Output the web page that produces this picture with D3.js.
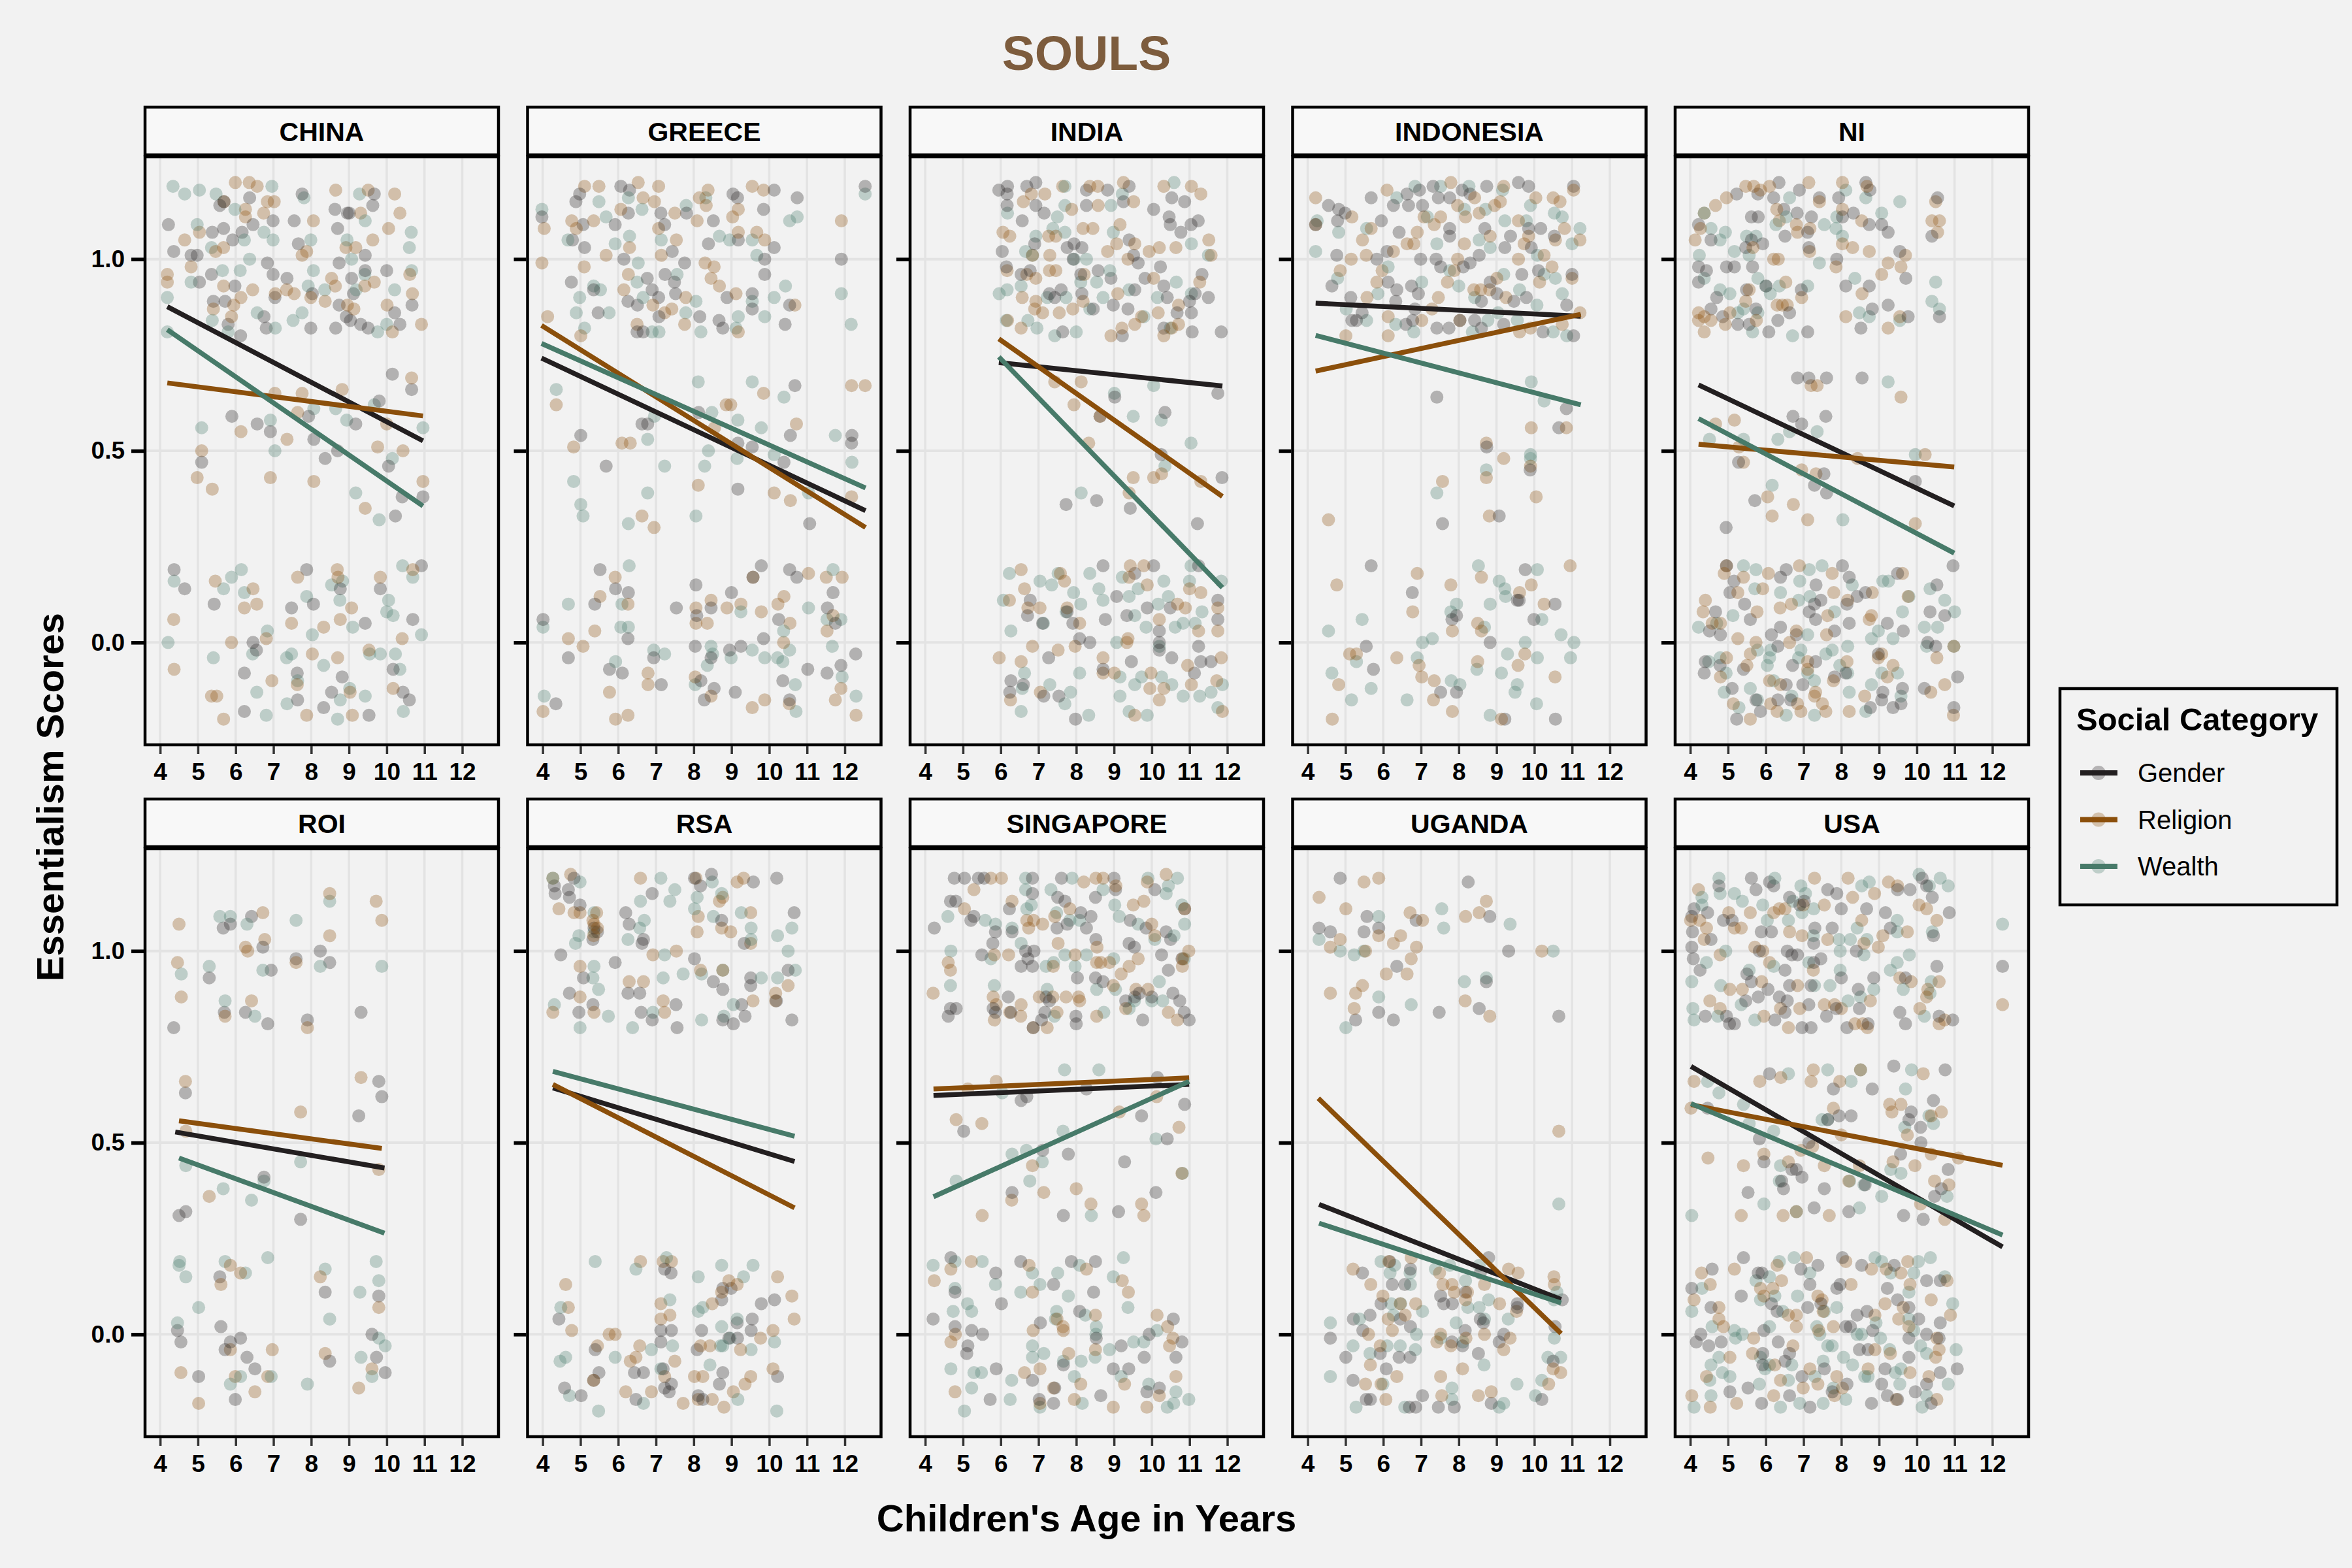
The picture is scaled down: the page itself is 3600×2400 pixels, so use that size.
<!DOCTYPE html>
<html>
<head>
<meta charset="utf-8">
<script src="https://cdn.jsdelivr.net/npm/d3@7"></script>
<style>
  body { margin: 0; background: #f2f2f2; }
  svg text { font-family: "Liberation Sans", Arial, sans-serif; }
</style>
</head>
<body>
<script>
// ---- data ----
var countries = ["CHINA", "GREECE", "INDIA", "INDONESIA", "NI", "ROI", "RSA", "SINGAPORE", "UGANDA", "USA"];
var categories = ["Gender", "Religion", "Wealth"];
var xTicks = [4, 5, 6, 7, 8, 9, 10, 11, 12];
var yTicks = [0, 0.5, 1.0];

// fitted lines, one per country: [age start, score start, age end, score end]
var genderFit = [[4.19,0.876,10.96,0.526],[3.97,0.742,12.55,0.344],[5.95,0.730,11.87,0.669],[4.21,0.885,11.23,0.851],[4.22,0.672,10.99,0.356],
                 [4.40,0.528,9.94,0.434],[4.27,0.643,10.67,0.451],[4.22,0.623,10.99,0.652],[4.30,0.339,10.71,0.091],[4.02,0.699,12.27,0.228]];
var religionFit = [[4.19,0.677,10.96,0.591],[3.97,0.827,12.55,0.300],[5.95,0.792,11.87,0.381],[4.21,0.708,11.23,0.856],[4.22,0.517,10.99,0.458],
                   [4.50,0.557,9.87,0.485],[4.27,0.652,10.67,0.330],[4.22,0.640,10.99,0.669],[4.28,0.616,10.71,0.002],[4.02,0.599,12.27,0.441]];
var wealthFit = [[4.19,0.816,10.96,0.356],[3.97,0.780,12.55,0.403],[5.95,0.745,11.87,0.143],[4.21,0.801,11.23,0.620],[4.22,0.584,10.99,0.233],
                 [4.50,0.460,9.94,0.264],[4.27,0.686,10.67,0.517],[4.22,0.359,10.99,0.660],[4.30,0.290,10.71,0.082],[4.02,0.602,12.27,0.259]];

// jittered children, flat lists of age, score pairs
var chinaGender = [4.22,1.09,4.36,1.02,4.82,1.01,4.98,1.01,5.04,0.94,5.58,1.14,5.69,1.15,6.37,1.16,6.99,1.10,6.46,1.09,5.38,1.07,5.68,1.08,6.17,1.07,5.92,1.05,5.36,0.96,5.98,0.93,5.41,0.89,5.72,0.89,5.8,0.83,6.13,0.8,6.84,0.99,6.99,0.96,7.04,0.9,7.36,0.95,6.75,0.85,6.81,0.82,7.55,1.1,7.76,1.17,7.66,1.04,8.03,0.91,7.99,0.82,8.63,1.13,8.7,1.08,8.96,1.12,9.01,1.12,8.74,0.99,9.07,0.95,9.12,0.91,8.74,0.88,8.93,0.85,8.65,0.82,9.04,0.84,9.31,0.83,9.51,0.82,9.43,1.01,9.43,0.97,9.63,1.14,9.67,1.17,10.0,0.97,10.21,0.86,10.35,0.83,10.67,0.88,
  5.9,0.59,6.57,0.57,6.92,0.55,7.93,0.59,8.07,0.53,8.37,0.48,8.7,0.5,9.18,0.57,9.8,0.63,10.15,0.7,10.66,0.66,10.05,0.46,10.41,0.38,10.96,0.38,10.23,0.33,5.1,0.47,
  4.37,0.19,4.65,0.14,5.43,0.1,7.88,0.19,8.06,0.1,7.48,0.09,8.77,0.14,9.43,0.05,9.83,0.14,10.92,0.2,10.69,0.06,6.46,0.0,6.55,-0.02,6.23,-0.08,7.63,-0.08,8.82,-0.09,8.54,-0.13,7.64,-0.15,8.33,-0.17,6.23,-0.18,9.53,-0.19,10.17,-0.07,10.43,-0.13,10.6,-0.15];
var chinaReligion = [5.99,1.2,6.36,1.2,6.57,1.19,5.69,1.15,6.84,1.15,7.02,1.15,6.74,1.12,6.26,1.11,6.26,1.13,5.04,1.07,4.65,1.05,8.06,1.1,8.65,1.18,9.51,1.18,10.21,1.17,10.35,1.12,10.05,1.08,9.63,1.05,9.31,1.12,9.18,1.03,8.92,1.03,7.76,1.01,7.88,1.02,5.68,1.03,5.47,1.02,4.82,0.98,4.19,0.96,4.19,0.94,5.68,0.93,6.45,0.92,6.14,0.9,5.95,0.88,5.41,0.87,5.89,0.85,7.05,0.91,7.35,0.92,7.55,0.91,7.99,0.9,8.37,0.89,8.54,0.95,8.64,0.93,8.96,0.88,9.13,0.87,9.42,0.93,9.67,0.94,10.01,0.88,10.15,0.81,10.61,0.96,10.68,0.91,10.92,0.83,
  5.1,0.5,4.98,0.43,5.38,0.4,6.14,0.55,6.92,0.43,7.04,0.65,7.36,0.53,7.76,0.65,7.64,0.6,8.07,0.42,8.82,0.66,10.0,0.57,9.76,0.51,10.43,0.5,9.43,0.35,10.96,0.42,10.66,0.69,
  5.46,0.16,6.46,0.14,6.23,0.09,6.56,0.1,4.36,0.06,5.89,0.0,6.81,0.01,7.64,0.17,8.69,0.19,8.71,0.17,9.07,0.09,8.77,0.06,8.33,0.04,7.48,0.05,9.83,0.17,10.69,0.19,10.41,0.01,9.53,-0.02,8.7,-0.04,8.03,-0.03,4.37,-0.07,6.96,-0.1,7.63,-0.11,5.36,-0.14,5.5,-0.14,5.68,-0.2,7.88,-0.19,9.03,-0.13,9.09,-0.19,10.17,-0.12];
var chinaWealth = [4.34,1.19,4.65,1.17,5.04,1.18,5.48,1.17,6.96,1.19,7.81,1.16,9.28,1.17,10.65,1.07,10.6,1.03,10.66,0.97,10.21,0.92,4.98,1.09,5.98,1.13,6.75,1.07,6.99,1.05,6.23,1.05,5.36,1.03,4.82,0.94,5.65,0.97,6.12,0.97,6.37,1.0,7.99,1.05,8.06,0.97,7.92,0.93,8.36,0.92,8.95,1.05,9.07,1.0,9.43,1.1,9.42,0.96,4.19,0.9,4.19,0.81,6.57,0.86,7.76,0.86,7.52,0.84,7.05,0.82,5.38,0.84,5.8,0.81,9.76,0.81,10.0,0.83,9.19,0.92,
  5.1,0.56,6.92,0.58,7.04,0.5,8.07,0.61,8.65,0.61,8.94,0.58,9.67,0.62,10.15,0.48,9.18,0.39,9.8,0.32,10.96,0.56,
  4.37,0.16,5.89,0.17,6.15,0.19,5.68,0.14,6.23,0.13,6.84,0.03,7.88,0.12,8.03,0.02,8.54,0.15,8.76,0.11,8.83,0.16,9.1,0.04,10.05,0.11,10.17,0.07,10.0,0.08,10.42,0.2,10.69,0.17,10.92,0.02,4.21,0.0,5.41,-0.04,6.45,-0.03,7.35,-0.04,7.48,-0.03,8.33,-0.06,9.55,-0.03,9.83,-0.03,10.23,-0.03,10.35,-0.07,6.56,-0.13,6.81,-0.19,7.36,-0.16,7.64,-0.1,8.77,-0.15,9.02,-0.12,9.43,-0.14,8.7,-0.2,10.44,-0.18];

var greeceGender = [4.88,1.15,4.98,1.17,6.07,1.19,6.3,1.18,6.27,1.12,5.07,1.09,4.79,1.05,5.11,1.03,3.98,1.11,5.92,1.09,6.15,1.0,4.76,0.94,5.35,0.92,5.47,0.86,6.26,0.89,6.51,0.88,6.77,0.95,6.9,0.92,7.07,0.9,7.13,1.12,7.23,1.09,7.43,1.02,7.24,0.96,7.49,0.94,7.52,0.91,7.08,0.85,6.66,0.81,6.5,0.81,7.76,0.99,7.81,1.12,8.16,0.85,8.39,1.04,8.52,1.1,8.67,0.84,8.88,0.9,9.04,1.17,9.16,1.16,9.18,1.05,9.55,0.91,9.55,0.87,9.85,1.13,9.88,1.0,9.88,0.96,10.13,1.03,10.13,1.18,10.74,1.16,10.42,0.83,10.54,0.88,11.91,1.0,12.54,1.19,8.77,0.82,
  5.01,0.54,5.68,0.46,6.63,0.57,6.78,0.57,8.13,0.6,9.17,0.52,9.17,0.4,9.55,0.51,10.39,0.47,10.56,0.54,10.68,0.67,11.07,0.31,12.18,0.52,12.19,0.54,
  5.52,0.19,5.93,0.14,6.27,0.13,5.38,0.1,6.26,0.01,4.68,-0.04,5.77,-0.07,6.11,-0.08,6.94,-0.04,7.14,-0.11,7.54,0.09,8.06,0.15,8.08,0.07,8.46,0.09,9.0,0.13,9.79,0.2,9.57,0.17,8.04,-0.01,8.46,-0.04,8.95,-0.02,9.25,-0.01,9.85,0.01,10.25,0.06,10.54,0.19,10.73,0.17,11.54,0.09,11.69,0.13,11.75,0.05,11.02,-0.07,11.53,-0.08,11.9,-0.06,12.29,-0.03,10.36,-0.1,8.19,-0.1,8.54,-0.12,8.28,-0.15,9.1,-0.13,10.54,-0.15,4.01,0.06,4.35,-0.16];
var greeceReligion = [5.11,1.19,5.49,1.19,6.53,1.2,6.66,1.16,7.07,1.19,6.96,1.15,4.77,1.1,4.04,1.08,3.98,0.99,4.89,1.08,5.35,1.1,6.07,1.13,5.68,1.01,6.3,1.03,6.27,0.96,5.1,0.98,6.15,0.92,7.07,1.08,7.54,1.05,7.14,1.01,7.5,1.12,7.42,0.87,7.23,0.86,6.92,0.88,6.5,0.83,7.76,0.83,7.79,0.9,8.15,1.16,8.33,1.14,8.38,1.18,8.3,0.99,8.54,0.98,8.46,0.95,8.68,0.93,8.09,1.1,9.03,1.11,9.18,1.13,9.18,1.07,9.12,0.91,9.18,0.81,9.55,1.19,9.85,1.18,9.67,1.07,9.88,1.05,10.68,0.88,11.91,1.1,4.13,0.85,5.01,0.8,
  4.36,0.62,4.82,0.51,6.1,0.52,6.32,0.52,6.63,0.33,6.95,0.3,8.12,0.41,8.86,0.62,8.98,0.62,9.85,0.65,10.13,0.39,10.56,0.37,10.72,0.57,12.18,0.67,12.54,0.67,12.18,0.38,8.55,0.56,
  5.92,0.17,5.52,0.12,4.68,0.01,5.07,-0.01,5.38,0.03,6.26,0.1,8.06,0.09,8.46,0.11,8.06,0.05,8.36,0.05,9.25,0.1,9.57,0.17,9.79,0.08,10.23,0.1,10.39,0.12,10.55,0.05,11.04,0.18,11.51,0.17,11.93,0.17,11.53,0.03,10.38,0.0,11.69,0.07,6.79,-0.08,6.79,-0.11,5.77,-0.13,5.93,-0.2,6.26,-0.19,4.01,-0.18,8.04,-0.09,8.46,-0.14,9.55,-0.17,9.88,-0.15,10.53,-0.16,11.9,-0.12,11.75,-0.15,12.3,-0.19,8.88,0.09];
var greeceWealth = [3.98,1.13,5.49,1.15,5.68,1.11,6.27,1.16,6.63,1.13,6.3,1.06,5.92,1.04,4.67,1.05,5.35,0.93,5.53,0.92,4.98,0.9,4.89,0.86,5.76,0.86,6.53,0.99,6.5,0.94,7.14,1.05,7.56,0.96,6.66,0.9,6.9,0.81,7.08,0.81,7.8,1.14,7.79,0.86,8.06,0.89,8.19,0.81,8.32,1.16,8.68,1.06,8.95,1.05,9.18,0.85,9.12,0.82,9.55,1.05,9.55,0.89,9.67,1.01,9.88,0.85,10.13,0.9,10.43,0.93,10.54,1.1,10.74,1.11,11.91,0.91,12.17,0.83,12.54,1.17,5.11,0.82,
  4.36,0.66,4.82,0.42,5.01,0.36,5.07,0.33,6.27,0.31,6.78,0.53,6.78,0.39,6.96,0.59,7.23,0.46,8.06,0.33,8.12,0.68,8.29,0.46,8.39,0.5,8.48,0.6,9.15,0.48,9.17,0.58,9.55,0.68,9.79,0.56,10.13,0.49,10.39,0.64,11.04,0.39,11.75,0.54,12.19,0.47,
  4.68,0.1,6.29,0.2,6.1,0.1,6.07,0.04,6.27,0.04,4.01,0.04,6.94,-0.02,7.23,-0.03,5.93,-0.05,8.46,-0.01,8.5,-0.03,8.36,-0.06,8.99,-0.04,9.55,-0.02,9.88,-0.04,10.22,-0.04,10.36,-0.05,10.54,-0.02,11.04,0.09,11.53,0.06,11.9,0.06,11.69,0.19,11.67,-0.01,11.93,-0.09,12.3,-0.14,10.69,-0.11,10.71,-0.18,8.04,-0.11,9.25,0.08,4.04,-0.14,10.38,0.03];

var indiaGender = [5.95,1.18,6.18,1.19,6.69,1.19,6.93,1.2,6.17,1.17,6.17,1.14,6.57,1.1,7.15,1.12,6.93,1.14,6.9,1.04,6.04,1.02,6.15,0.98,6.54,0.96,6.78,0.97,7.29,0.91,7.43,0.9,7.6,0.92,7.76,1.03,7.94,1.04,8.15,1.03,7.92,1.0,8.27,1.18,8.83,1.18,8.27,1.14,8.12,0.96,8.15,0.91,8.45,0.87,8.58,0.97,8.92,0.95,8.98,0.88,9.22,0.8,9.4,1.19,9.25,1.15,9.4,1.05,9.52,1.01,9.64,0.99,9.82,0.95,9.55,0.92,9.37,0.87,10.05,1.13,10.46,1.11,10.49,1.09,10.23,0.98,10.32,0.93,10.41,0.9,10.32,0.82,10.53,1.16,10.87,1.15,10.77,1.07,11.04,1.09,11.23,1.1,11.33,0.96,11.15,0.91,11.0,0.89,11.05,0.86,11.07,0.81,11.5,0.9,11.84,0.81,10.67,0.86,7.64,0.81,
  9.02,0.64,8.63,0.59,10.35,0.6,10.25,0.49,11.75,0.65,11.86,0.43,7.73,0.36,8.54,0.37,9.43,0.35,11.21,0.31,
  6.78,0.11,8.71,0.2,10.05,0.2,9.55,0.18,9.07,0.12,9.88,0.09,10.49,0.09,11.75,0.11,11.75,0.06,11.24,0.2,10.2,0.03,10.2,0.0,10.2,-0.02,10.53,-0.04,11.24,-0.01,11.3,-0.05,11.57,-0.05,11.13,-0.08,9.46,-0.05,8.71,-0.07,8.36,0.0,8.09,0.01,7.91,0.05,7.76,0.08,7.11,0.05,6.71,0.07,7.27,-0.04,6.27,-0.1,6.6,-0.11,6.24,-0.13,7.14,-0.14,7.54,-0.14,7.98,-0.2,8.77,0.06,9.34,0.07];
var indiaReligion = [7.64,1.19,7.17,1.17,6.81,1.17,6.6,1.15,6.06,1.07,6.24,1.06,6.17,0.97,6.69,0.96,6.84,1.01,7.27,1.06,7.46,1.06,7.3,1.01,7.29,0.97,7.46,0.97,6.93,0.95,6.57,0.9,6.93,0.89,6.9,0.87,7.11,0.86,7.55,0.86,7.91,0.87,8.18,0.89,8.21,0.96,8.18,1.08,8.44,1.08,7.88,1.13,8.36,1.19,8.57,1.19,8.58,1.14,8.83,1.02,9.07,1.04,9.16,1.09,9.25,1.2,9.52,1.15,9.37,1.0,9.1,0.91,9.55,1.04,9.93,1.02,10.05,0.95,10.17,0.86,9.73,0.85,9.55,0.83,8.92,0.8,9.21,0.82,10.2,1.03,10.32,1.19,10.64,1.03,11.05,1.19,11.3,1.17,11.51,1.05,11.57,1.01,11.27,0.94,10.71,0.88,10.53,0.82,10.32,0.8,6.18,0.84,6.54,0.82,10.71,0.83,
  7.43,0.68,8.13,0.68,7.94,0.62,8.63,0.59,8.33,0.52,9.51,0.43,9.4,0.39,10.05,0.43,10.26,0.44,11.3,0.42,
  6.54,0.19,6.63,0.14,6.23,0.11,6.72,0.09,7.04,0.09,7.69,0.16,7.58,0.18,7.76,0.09,8.09,0.05,7.97,-0.01,7.52,-0.02,6.84,-0.01,5.96,-0.04,6.54,-0.05,7.05,-0.13,6.26,-0.15,8.71,-0.04,8.71,-0.08,9.01,-0.08,9.34,0.0,9.4,0.17,9.43,0.2,9.79,0.2,9.88,0.15,10.2,0.06,10.68,0.1,10.89,0.09,11.0,0.14,11.3,0.13,11.24,0.03,11.75,0.09,11.75,0.03,11.84,-0.04,10.95,-0.06,11.05,-0.11,10.32,-0.12,9.95,-0.12,9.98,-0.08,10.2,-0.15,9.55,-0.19,11.87,-0.18,11.72,-0.1,9.37,0.01];
var indiaWealth = [6.18,1.12,5.96,0.91,6.17,0.92,6.54,0.93,6.66,1.02,6.93,1.06,6.84,1.01,7.23,0.9,7.38,1.08,7.5,1.11,7.7,1.14,7.7,1.19,7.7,1.07,7.94,1.0,8.27,1.0,7.73,0.9,8.12,0.94,8.54,0.94,8.71,0.9,8.36,0.87,8.92,1.14,8.98,1.07,9.22,1.17,9.4,0.92,9.79,0.85,10.15,0.9,10.59,1.2,10.65,0.94,11.05,1.04,11.5,1.01,11.05,0.91,10.49,0.82,8.0,0.81,7.43,0.8,6.96,0.82,6.72,0.84,6.15,0.84,8.89,0.97,
  9.01,0.65,10.05,0.67,9.51,0.59,10.25,0.58,10.35,0.46,11.04,0.52,8.13,0.39,
  6.23,0.18,7.04,0.16,7.35,0.15,7.52,0.18,8.36,0.18,8.6,0.14,8.71,0.11,7.93,0.13,8.12,0.1,6.07,0.11,6.27,0.03,7.13,0.05,7.73,0.08,9.22,0.17,9.4,0.12,9.55,0.07,9.64,0.14,10.17,0.1,10.32,0.16,10.44,0.12,9.85,0.04,10.2,-0.01,10.62,0.04,10.83,0.05,11.04,0.2,11.0,0.16,11.15,0.05,11.33,0.08,11.84,0.16,9.07,0.0,9.16,-0.09,9.55,-0.11,9.73,-0.09,10.26,-0.09,10.53,-0.11,10.83,-0.14,11.27,-0.14,11.57,-0.13,11.87,-0.11,11.75,-0.17,9.16,-0.14,9.4,-0.18,9.88,-0.19,8.09,-0.08,7.3,-0.11,7.85,-0.13,7.7,-0.16,8.33,-0.19,6.54,-0.18,6.63,-0.08,6.57,-0.12];

var indonesiaGender = [4.55,1.14,4.82,1.13,4.99,1.12,4.79,1.1,4.21,1.09,5.68,1.16,5.95,1.1,4.77,1.01,4.64,0.93,5.14,0.9,5.17,0.84,5.29,0.84,5.44,0.86,5.83,1.0,6.1,1.02,6.13,0.94,6.36,0.92,6.27,1.14,6.42,1.07,6.63,1.17,6.67,1.14,6.96,1.18,7.04,1.14,7.32,1.19,7.46,1.16,7.76,1.16,8.09,1.18,8.3,1.17,8.74,1.19,9.58,1.2,9.85,1.19,11.04,1.19,7.76,1.08,7.76,1.06,6.99,1.0,7.4,1.0,7.52,0.98,6.75,0.93,6.93,0.91,6.84,0.87,6.78,0.84,6.6,0.83,6.33,0.89,7.42,0.82,7.74,0.82,8.03,0.84,8.12,0.98,8.3,0.99,8.54,1.01,8.42,0.84,8.6,0.82,8.6,0.89,8.69,1.08,8.83,0.94,9.01,0.91,9.22,1.03,9.19,0.83,9.37,1.06,9.46,0.89,9.67,0.96,9.79,0.9,9.85,1.08,9.92,1.03,10.17,1.08,10.23,0.81,10.53,1.06,10.86,0.88,11.04,0.8,11.0,0.96,10.11,0.97,
  7.42,0.64,10.85,0.61,10.65,0.56,9.89,0.45,9.07,0.33,8.74,0.51,7.57,0.31,
  5.68,0.2,6.77,0.13,7.82,0.06,7.94,0.07,9.76,0.19,9.6,0.11,10.55,0.1,9.99,0.06,5.55,-0.01,5.74,-0.07,8.83,0.0,7.52,-0.13,7.94,-0.13,9.22,-0.2,10.56,-0.2,9.55,0.11];
var indonesiaReligion = [4.21,1.16,5.17,1.11,4.21,1.09,5.45,1.05,5.15,1.0,5.55,1.01,5.68,1.08,6.1,1.18,5.97,0.97,5.83,0.94,5.57,0.9,4.86,0.97,5.01,0.8,6.27,1.02,6.63,1.04,6.81,1.04,6.9,1.07,7.08,1.11,7.35,1.09,7.52,1.11,7.79,1.2,7.97,1.14,8.15,1.04,7.97,1.0,7.88,0.97,7.7,0.94,7.46,0.9,7.29,0.87,6.13,0.85,6.13,0.8,7.02,0.84,8.03,0.84,8.18,1.11,8.42,1.16,8.54,1.12,8.83,1.06,8.95,1.14,9.19,1.19,9.1,1.15,8.4,0.92,8.58,0.92,8.82,0.92,9.01,0.95,9.25,0.9,9.58,1.1,9.73,1.04,9.85,1.06,9.58,1.0,10.04,1.16,10.5,1.16,10.68,1.15,10.8,1.08,10.56,1.05,10.26,1.01,10.47,0.98,11.0,0.95,11.21,1.05,11.04,1.18,10.14,0.94,9.61,0.81,9.9,0.82,10.74,0.83,11.21,0.86,
  4.55,0.32,7.57,0.42,8.73,0.52,8.73,0.43,9.19,0.48,8.81,0.33,9.92,0.56,9.9,0.46,10.05,0.38,10.85,0.56,
  4.77,0.15,6.9,0.18,7.79,0.15,8.6,0.17,9.92,0.15,9.61,0.13,10.26,0.1,10.95,0.2,6.78,0.08,7.83,0.03,8.5,0.05,8.6,0.03,5.11,-0.03,5.29,-0.03,6.36,-0.04,6.95,-0.06,7.02,-0.09,7.35,-0.1,7.33,-0.15,7.83,-0.18,8.5,-0.05,9.57,-0.06,9.75,-0.03,10.55,-0.09,9.13,-0.2,4.82,-0.11,4.65,-0.2];
var indonesiaWealth = [4.25,1.1,4.82,1.07,4.21,1.02,5.56,1.08,4.79,0.95,5.02,0.87,5.56,0.84,5.86,0.91,6.13,0.98,6.36,1.16,6.84,1.19,7.17,1.11,7.42,1.04,7.52,1.19,7.02,0.94,7.76,0.97,8.0,0.93,8.15,1.13,8.27,1.19,8.54,1.05,8.83,1.03,8.71,1.13,9.22,1.1,9.16,1.18,9.19,0.96,8.42,0.9,8.77,0.84,9.04,0.86,9.55,0.84,9.61,0.92,9.9,1.14,9.79,1.1,10.08,1.01,10.26,0.96,10.56,0.95,10.74,0.91,10.53,1.12,10.74,1.11,11.0,1.04,11.21,1.08,10.5,0.81,10.86,0.8,10.07,0.88,6.33,0.83,6.81,0.81,8.36,0.81,
  7.42,0.39,8.73,0.45,9.92,0.68,10.26,0.63,9.9,0.49,9.9,0.48,
  5.44,0.06,4.55,0.03,4.64,-0.08,5.29,-0.05,5.68,-0.12,5.16,-0.15,7.04,0.0,7.3,0.01,6.9,-0.04,6.63,-0.15,7.8,-0.1,8.03,-0.11,7.94,0.1,7.79,0.08,8.52,0.2,9.07,0.16,9.22,0.14,9.24,0.12,8.83,0.1,8.68,0.04,10.08,0.19,10.2,0.06,10.71,0.02,11.05,0.0,9.76,0.0,9.29,-0.03,10.08,-0.04,10.96,-0.04,9.13,-0.08,9.55,-0.11,9.49,-0.13,10.06,-0.16,8.83,-0.19,8.48,-0.07];

var niGender = [5.23,1.17,5.79,1.17,6.35,1.2,6.21,1.16,6.89,1.18,7.42,1.16,6.48,1.13,6.83,1.12,7.21,1.11,5.62,1.11,5.8,1.11,4.22,1.09,4.55,1.05,5.62,1.05,5.47,1.03,5.92,1.04,6.51,1.06,4.22,0.98,4.43,0.97,4.22,0.94,4.96,0.98,5.17,0.98,5.65,0.98,5.49,0.92,4.7,0.9,4.55,0.87,4.86,0.85,5.26,0.83,5.56,0.83,5.74,0.87,6.01,0.93,6.08,0.81,6.32,0.84,6.63,0.86,6.94,0.92,7.11,0.81,7.14,1.03,7.11,1.07,7.88,1.0,8.03,1.11,8.32,1.12,7.93,1.16,8.12,0.93,8.65,1.2,8.76,1.18,8.74,1.09,9.07,1.09,9.24,1.07,8.74,0.93,8.82,0.87,8.52,0.82,9.24,0.88,9.55,1.02,9.71,0.95,9.77,0.85,10.55,1.16,10.4,1.06,10.6,0.85,
  6.84,0.69,7.14,0.69,7.61,0.69,8.55,0.69,6.72,0.59,6.95,0.57,7.59,0.59,7.54,0.44,7.29,0.41,7.61,0.39,5.71,0.37,4.95,0.3,9.96,0.42,5.28,0.47,
  4.96,0.2,5.16,0.16,6.39,0.17,6.54,0.19,5.05,0.13,5.44,0.1,5.59,0.06,4.67,0.08,4.51,0.03,4.8,0.02,6.15,0.02,6.39,0.04,6.81,0.02,7.33,0.15,7.46,0.11,7.29,0.1,7.15,0.08,7.32,0.06,8.03,0.2,8.21,0.17,8.42,0.12,8.64,0.13,8.15,0.1,8.21,0.05,7.82,0.03,9.22,0.05,9.49,0.18,10.53,0.15,10.35,0.08,10.74,0.07,10.96,0.2,10.29,0.0,10.5,-0.01,8.98,-0.03,4.4,-0.05,4.37,-0.08,4.79,-0.06,5.41,-0.07,6.32,-0.01,6.71,-0.06,7.32,-0.05,7.82,-0.09,8.12,-0.08,6.54,-0.11,6.98,-0.11,5.11,-0.12,5.74,-0.15,5.86,-0.18,5.23,-0.2,6.32,-0.15,6.66,-0.15,9.1,-0.13,9.07,-0.15,9.37,-0.17,9.62,-0.12,9.58,-0.16,8.77,-0.17,10.2,-0.12,10.98,-0.17,11.08,-0.09,9.64,0.03];
var niReligion = [4.37,1.12,4.67,1.14,4.96,1.16,5.47,1.19,5.68,1.19,5.86,1.18,6.1,1.19,6.29,1.13,6.36,1.1,6.81,1.09,6.84,1.07,7.14,1.2,7.17,1.08,7.42,1.15,7.16,1.02,6.33,1.0,6.21,1.0,5.66,1.03,4.27,1.08,4.13,1.05,6.53,0.94,6.95,0.9,5.47,0.89,5.56,0.92,6.44,0.88,6.57,0.88,6.3,0.88,4.22,0.86,4.37,0.85,4.55,0.84,4.22,0.84,4.93,0.83,5.05,0.86,5.75,0.84,4.37,0.81,8.03,1.2,8.03,1.13,8.03,1.04,8.3,1.03,8.54,1.1,8.74,1.02,7.86,0.98,8.55,0.91,8.12,0.85,9.07,0.96,9.24,0.99,9.58,0.98,9.7,1.01,9.55,0.85,9.24,0.82,8.68,1.19,10.5,1.15,10.4,1.1,10.6,1.1,10.55,1.07,
  7.2,0.67,7.36,0.67,9.58,0.64,4.67,0.57,5.17,0.58,5.29,0.51,5.41,0.47,6.95,0.45,7.33,0.44,6.05,0.38,6.73,0.36,6.17,0.33,7.11,0.32,8.43,0.48,10.22,0.49,9.96,0.31,
  4.96,0.2,4.9,0.18,5.41,0.17,6.07,0.18,6.89,0.2,7.76,0.18,7.8,0.13,9.62,0.18,4.4,0.11,4.34,0.08,4.58,0.05,4.8,0.05,5.26,0.13,5.77,0.08,5.92,0.14,6.38,0.09,6.68,0.1,6.81,0.03,7.64,0.07,8.17,0.11,8.82,0.13,8.8,0.07,8.74,0.06,9.77,0.12,5.26,0.01,5.74,0.0,5.59,-0.03,6.63,0.0,7.11,-0.05,7.11,-0.07,7.61,0.02,8.15,-0.05,8.98,-0.04,9.07,-0.03,9.37,-0.06,9.22,-0.09,10.53,-0.04,10.98,-0.01,4.8,-0.09,4.96,-0.04,5.5,-0.06,6.1,-0.1,6.39,-0.11,6.13,-0.16,6.3,-0.18,6.93,-0.18,6.84,-0.16,7.32,-0.13,7.29,-0.14,7.5,-0.16,7.59,-0.18,5.59,-0.2,5.14,-0.16,7.79,-0.1,8.21,-0.18,8.62,-0.14,10.37,-0.13,10.74,-0.11,10.97,-0.19];
var niWealth = [4.37,1.12,4.55,1.08,4.93,1.07,4.79,1.05,4.24,1.01,5.17,1.02,5.49,1.06,5.74,1.06,5.56,1.01,4.37,0.95,4.79,0.92,5.05,0.91,5.41,0.87,5.79,0.86,5.79,0.95,6.0,0.93,6.12,0.91,6.36,0.93,7.11,0.93,5.65,0.81,5.26,0.86,6.27,1.09,6.63,1.16,6.54,1.11,7.55,1.09,7.88,1.11,7.86,1.08,8.12,1.18,8.03,1.06,8.65,1.16,9.07,1.12,9.55,1.15,7.42,0.99,8.36,0.95,8.48,0.86,8.74,0.85,9.55,0.84,10.5,0.94,10.4,0.89,10.6,0.87,6.71,0.8,
  4.51,0.53,5.41,0.53,6.32,0.53,6.63,0.55,7.36,0.55,6.17,0.41,8.04,0.32,9.24,0.68,9.96,0.49,
  5.41,0.2,5.74,0.19,7.15,0.19,7.49,0.2,6.9,0.16,6.39,0.13,5.71,0.14,5.13,0.07,4.22,0.04,4.7,0.05,6.87,0.11,7.17,0.12,7.82,0.08,8.29,0.15,9.1,0.16,9.25,0.16,9.79,0.12,9.62,0.08,10.35,0.14,10.74,0.11,11.0,0.08,10.2,0.04,10.55,0.04,8.98,0.03,9.37,0.01,8.8,0.01,10.26,-0.01,10.98,-0.01,4.49,-0.05,4.79,-0.04,4.95,-0.08,5.78,-0.02,6.13,-0.02,6.1,-0.04,6.04,-0.06,7.11,0.02,6.93,-0.02,6.87,-0.04,7.59,-0.03,7.76,-0.02,7.11,-0.08,8.17,-0.01,7.96,-0.06,8.17,-0.08,9.07,-0.08,9.49,-0.08,4.9,-0.13,5.59,-0.12,6.21,-0.1,5.78,-0.15,5.29,-0.17,6.54,-0.19,7.29,-0.19,6.69,-0.14,7.29,-0.1,8.21,-0.13,8.8,-0.11,8.65,-0.18,9.58,-0.14];

var roiGender = [5.67,1.06,6.42,1.09,5.86,1.07,6.72,1.01,6.94,0.95,7.6,0.98,8.24,1.0,8.49,0.97,5.3,0.93,5.7,0.84,6.26,0.84,6.85,0.81,7.9,0.82,4.36,0.8,9.32,0.84,
  4.67,0.63,9.79,0.66,9.87,0.62,9.26,0.57,6.75,0.41,4.5,0.31,4.68,0.32,7.72,0.3,
  5.58,0.15,8.37,0.11,9.79,0.1,5.61,0.02,4.46,0.01,4.55,-0.02,5.86,-0.02,6.13,-0.01,5.72,-0.04,6.3,-0.06,6.51,-0.09,8.49,-0.07,9.61,0.0,9.73,-0.06,9.96,-0.1,5.02,-0.11,5.99,-0.17];
var roiReligion = [4.5,1.07,6.72,1.1,6.77,1.03,6.26,1.01,6.32,1.0,8.49,1.15,8.49,1.04,9.72,1.13,9.87,1.08,4.46,0.97,7.6,0.97,4.56,0.88,5.72,0.83,6.42,0.87,7.9,0.8,
  4.67,0.66,9.32,0.67,7.72,0.58,4.68,0.53,9.79,0.43,5.3,0.36,
  5.86,0.18,6.13,0.16,5.61,0.13,8.24,0.15,9.79,0.07,5.86,-0.04,6.97,-0.04,8.37,-0.05,9.61,-0.09,4.55,-0.1,5.99,-0.11,6.85,-0.11,6.51,-0.15,9.26,-0.14,5.02,-0.18];
var roiWealth = [5.58,1.09,5.86,1.09,6.3,1.07,7.6,1.08,8.49,1.13,4.56,0.94,5.3,0.96,6.72,0.95,8.24,0.96,9.87,0.96,5.72,0.87,6.51,0.83,
  4.68,0.44,7.72,0.45,5.67,0.38,6.42,0.35,6.75,0.4,
  4.52,0.19,4.5,0.18,5.72,0.19,6.26,0.16,6.85,0.2,8.37,0.17,9.72,0.19,4.68,0.15,9.79,0.14,9.29,0.11,5.02,0.07,4.46,0.03,8.49,0.04,9.79,-0.01,9.96,-0.03,9.32,-0.06,6.13,-0.11,5.86,-0.13,6.94,-0.11,7.9,-0.13,9.61,-0.11];

var rsaGender = [4.31,1.17,4.33,1.15,4.83,1.19,4.68,1.16,4.71,1.14,4.99,1.12,5.36,1.06,5.45,1.05,5.33,1.03,4.48,0.99,5.08,0.93,4.71,0.89,5.33,0.86,4.96,0.84,6.2,1.1,6.29,1.07,6.67,1.03,6.63,1.02,5.92,0.97,6.26,0.89,6.57,0.89,6.61,0.84,6.9,1.15,6.9,0.82,7.56,0.8,7.53,0.86,8.02,1.19,8.47,1.2,8.18,1.17,8.74,1.08,8.02,0.98,8.52,0.92,8.77,0.9,9.58,1.18,10.2,1.19,9.34,1.02,9.51,0.93,9.51,0.91,9.27,0.86,9.36,0.83,9.05,0.81,10.19,0.87,10.66,1.1,10.5,0.95,10.6,0.82,8.77,0.82,
  7.23,0.17,7.4,0.16,8.77,0.12,8.99,0.12,8.74,0.09,9.79,0.08,10.14,0.09,9.55,0.04,9.15,0.03,8.21,0.01,7.13,0.01,7.41,0.01,4.43,0.04,5.39,-0.04,7.13,-0.02,8.09,-0.04,8.93,-0.01,9.16,-0.01,9.52,0.01,6.43,-0.1,6.67,-0.1,7.19,-0.09,8.77,-0.1,10.22,-0.11,5.35,-0.12,5.49,-0.1,4.58,-0.14,5.02,-0.16,6.47,-0.17,7.23,-0.14,7.41,-0.13,7.35,-0.15,8.12,-0.16,8.68,-0.13,8.24,-0.17];
var rsaReligion = [4.27,1.19,4.74,1.2,4.43,1.11,4.83,1.1,4.99,1.1,5.33,1.08,5.43,1.1,5.36,1.07,5.45,1.06,5.35,1.04,4.99,0.96,4.27,0.84,4.99,0.88,5.36,0.84,6.59,1.19,6.92,0.99,7.54,1.0,6.29,0.92,6.67,0.92,7.19,0.87,7.23,0.84,8.06,1.19,9.15,1.18,9.32,1.19,8.12,1.09,8.68,1.13,8.77,1.14,8.74,1.06,8.98,1.05,8.09,1.05,9.51,1.02,9.51,1.1,8.18,0.95,8.77,0.95,9.57,0.87,10.17,0.87,10.5,0.91,10.17,0.89,
  7.19,0.19,7.41,0.19,6.59,0.19,4.61,0.13,4.68,0.07,4.77,0.01,5.45,-0.03,5.76,0.0,5.92,0.0,6.57,-0.03,6.32,-0.07,6.47,-0.06,7.13,0.08,7.13,0.04,7.37,0.05,7.5,-0.07,7.23,-0.11,6.88,-0.15,7.72,-0.18,8.02,-0.11,8.12,-0.17,8.24,-0.11,8.49,-0.17,8.8,-0.19,9.05,-0.15,8.49,0.08,8.74,0.11,8.93,0.14,9.15,0.13,10.22,0.15,10.6,0.1,10.66,0.04,10.1,0.01,9.77,-0.01,10.1,-0.09,9.51,-0.11,9.36,-0.13,9.24,-0.04,8.18,-0.03,8.43,-0.03,6.2,-0.15,5.35,-0.12];
var rsaWealth = [4.27,1.19,4.99,1.18,5.36,1.1,5.36,1.05,4.96,1.04,4.87,1.02,5.36,0.96,5.33,0.93,5.48,0.9,4.31,0.86,4.99,0.8,5.74,0.83,6.59,1.13,6.57,1.06,6.69,1.08,6.26,1.03,7.13,1.19,7.5,1.16,7.37,1.13,7.23,0.99,7.19,0.93,6.92,0.84,6.38,0.8,7.72,0.94,8.02,1.11,8.09,1.14,8.49,1.18,8.74,1.15,8.52,1.09,8.77,0.95,8.21,0.94,8.21,0.82,8.8,0.83,9.05,0.86,9.26,1.1,9.52,1.06,9.52,1.03,9.79,0.93,10.22,1.04,10.22,0.93,10.6,1.06,10.5,1.0,10.69,0.95,
  5.39,0.19,6.47,0.17,7.28,0.2,8.74,0.18,9.57,0.18,9.32,0.15,8.12,0.15,7.37,0.09,8.12,0.06,8.24,0.07,8.74,0.02,9.15,0.04,8.71,-0.03,8.96,-0.01,9.52,-0.04,10.14,-0.02,4.48,0.07,6.88,-0.04,7.44,-0.03,5.92,-0.06,4.61,-0.06,4.46,-0.07,7.13,-0.09,8.43,-0.08,8.77,-0.03,4.71,-0.16,5.48,-0.2,6.67,-0.18,9.17,-0.17,10.2,-0.2];

var singaporeGender = [4.77,1.19,5.04,1.19,5.41,1.19,5.56,1.19,4.67,1.13,4.81,1.13,4.24,1.06,5.29,1.09,5.21,1.08,5.86,1.05,5.79,1.02,5.5,0.99,6.23,1.11,6.3,1.05,6.84,1.19,6.84,1.15,6.66,1.0,6.88,1.0,6.72,0.98,6.54,0.96,6.84,0.96,7.51,1.14,7.7,1.13,7.49,1.06,7.76,1.07,7.61,1.19,8.12,1.1,8.27,1.06,8.39,1.09,8.52,1.03,8.51,1.14,9.0,1.19,9.04,1.16,9.4,1.02,9.54,1.01,9.43,1.08,10.08,1.16,10.38,1.05,10.5,1.03,10.26,0.99,10.44,0.95,10.8,0.98,10.87,1.11,9.85,1.06,8.03,0.93,8.51,0.93,8.71,0.92,6.2,0.88,5.8,0.85,5.86,0.84,6.27,0.84,7.17,0.84,7.2,0.88,7.29,0.87,7.99,0.83,8.0,0.81,9.31,0.87,9.55,0.88,9.67,0.89,9.76,0.82,10.0,0.88,10.56,0.89,10.74,0.87,10.86,0.84,10.99,0.82,4.67,0.85,4.61,0.83,4.82,0.85,6.86,0.8,7.08,0.82,
  5.02,0.53,6.54,0.61,6.69,0.62,8.27,0.64,10.15,0.67,10.87,0.6,9.73,0.57,10.41,0.51,7.11,0.48,7.79,0.47,9.28,0.45,6.3,0.37,7.66,0.31,9.12,0.32,10.11,0.37,
  4.68,0.2,5.87,0.16,6.53,0.19,7.87,0.19,8.51,0.19,7.4,0.13,8.46,0.11,4.79,0.11,4.21,0.04,6.02,0.08,8.09,0.06,7.05,0.03,10.57,0.04,4.79,0.02,5.23,0.01,5.52,0.0,5.13,-0.03,5.1,-0.05,8.53,-0.01,9.19,-0.03,9.93,0.0,10.8,-0.02,9.8,-0.06,10.64,-0.06,7.66,-0.08,8.98,-0.09,9.39,-0.09,5.88,-0.09,6.84,-0.12,5.72,-0.17,7.02,-0.17,7.4,-0.18,8.65,-0.16,9.87,-0.15,10.2,-0.14,7.43,-0.14];
var singaporeReligion = [5.29,1.16,5.74,1.19,6.02,1.19,5.04,1.11,6.3,1.13,6.69,1.08,6.87,1.08,7.11,1.07,6.74,1.06,6.21,0.99,5.83,0.99,4.61,0.97,4.67,0.95,4.21,0.89,5.8,0.88,5.88,0.86,5.83,0.82,6.24,0.84,6.54,0.86,6.53,0.83,7.02,0.88,7.38,0.88,7.49,0.84,7.23,0.8,6.86,0.8,7.73,0.88,8.06,0.88,8.09,0.87,8.54,0.83,7.39,0.96,7.52,1.02,7.43,1.09,7.83,1.11,8.2,1.18,8.52,1.19,8.71,1.19,9.05,1.17,8.55,1.01,8.65,0.97,8.88,0.97,7.97,0.99,8.98,0.91,9.19,0.94,9.4,0.96,9.64,0.98,9.51,1.12,9.79,1.13,9.88,1.18,10.38,1.2,10.0,1.07,10.08,1.04,9.58,0.9,9.9,0.9,9.31,0.85,10.44,0.84,10.68,0.82,10.81,0.96,10.82,0.98,10.98,1.0,10.87,1.11,8.54,0.97,
  5.13,0.64,5.88,0.66,4.82,0.56,5.5,0.55,6.84,0.44,7.14,0.37,6.29,0.35,5.51,0.31,8.0,0.38,8.39,0.34,9.14,0.58,10.13,0.62,10.72,0.54,10.8,0.42,9.73,0.34,9.79,0.31,
  5.22,0.19,4.68,0.17,4.24,0.14,6.75,0.18,6.84,0.11,8.27,0.17,9.22,0.14,9.38,0.11,6.86,0.01,7.49,0.04,7.65,0.02,7.66,0.01,8.51,0.05,4.8,0.0,4.68,-0.02,10.14,0.05,10.42,0.02,10.56,-0.01,10.47,-0.03,8.51,-0.04,7.8,-0.05,6.63,-0.1,7.04,-0.09,8.12,-0.13,7.4,-0.14,9.28,-0.13,10.64,-0.11,10.2,-0.16,9.87,-0.19,8.98,-0.19,7.95,-0.17,7.04,-0.18,4.79,-0.15];
var singaporeWealth = [4.6,1.09,4.68,1.0,4.67,0.91,5.59,1.08,5.86,1.07,5.74,0.98,5.83,0.91,6.3,1.06,6.54,1.02,6.66,1.19,6.66,1.16,6.81,1.12,6.69,1.11,7.2,0.96,7.4,0.97,7.23,0.9,7.42,0.83,7.33,1.16,7.48,1.1,7.83,1.08,7.89,1.19,8.09,1.08,7.7,0.99,7.97,0.96,8.27,0.99,8.54,0.9,8.73,0.84,8.71,1.16,9.02,1.12,8.99,0.98,9.04,0.9,9.14,1.09,9.64,1.07,9.9,1.19,10.08,1.03,10.38,1.15,10.44,1.17,10.68,1.19,10.59,1.04,10.87,1.07,10.2,0.92,10.29,0.87,10.0,0.87,9.54,0.87,9.4,0.85,10.86,0.98,10.8,1.12,
  7.69,0.69,8.6,0.69,6.04,0.63,7.65,0.53,6.3,0.47,6.68,0.48,7.1,0.45,6.77,0.4,4.82,0.4,8.4,0.31,10.11,0.51,10.81,0.42,
  4.21,0.18,4.79,0.19,5.51,0.19,6.84,0.16,7.04,0.13,6.53,0.11,5.86,0.13,4.79,0.12,7.51,0.16,7.79,0.1,8.09,0.18,8.98,0.15,9.25,0.2,9.37,0.07,5.12,0.08,5.23,0.06,4.74,0.06,7.48,0.06,7.45,0.04,8.24,0.05,8.53,0.02,8.52,0.0,10.14,0.01,8.88,-0.04,9.52,-0.02,9.79,-0.02,6.84,-0.03,7.14,-0.05,6.84,-0.06,8.5,-0.06,8.13,-0.07,7.66,-0.07,4.68,-0.09,5.29,-0.1,5.49,-0.1,6.29,-0.12,7.95,-0.11,9.19,-0.11,9.92,-0.13,10.64,-0.15,10.58,-0.18,10.98,-0.17,10.41,-0.19,5.23,-0.14,5.04,-0.2,6.25,-0.17,7.04,-0.19,8.16,-0.18];

var ugandaGender = [4.86,1.19,4.3,1.06,4.6,1.05,5.49,1.05,5.57,1.09,5.88,1.06,6.87,1.08,6.36,0.96,5.27,0.82,5.88,0.84,6.27,0.82,7.48,0.84,8.25,1.18,8.82,1.09,9.32,1.0,8.54,0.85,8.73,0.92,10.65,0.83,
  5.45,0.16,6.17,0.19,6.24,0.13,6.57,0.13,6.72,0.17,5.94,0.08,5.21,0.04,5.65,0.05,5.46,0.01,6.45,0.04,6.72,0.02,4.6,-0.01,5.01,-0.06,5.92,-0.05,6.42,-0.06,6.71,-0.06,6.08,-0.09,5.2,-0.12,5.55,-0.17,5.66,-0.17,6.86,-0.19,7.04,-0.16,6.69,-0.19,7.52,0.1,7.6,0.08,7.83,0.08,8.18,0.11,8.79,0.2,8.57,0.16,8.17,0.01,7.82,-0.02,8.1,-0.03,8.52,-0.05,8.57,0.04,8.65,0.03,9.19,0.0,9.07,-0.02,9.55,0.08,9.55,0.07,10.55,0.02,10.5,-0.07,10.74,0.09,10.2,-0.17,8.86,-0.18,7.46,-0.19,7.88,-0.19];
var ugandaReligion = [4.3,1.14,5.01,1.11,5.49,1.18,5.88,1.19,4.86,1.03,4.6,1.01,5.88,1.04,5.53,1.0,6.27,1.02,6.46,1.04,6.71,1.1,7.04,1.08,6.88,1.01,6.74,0.98,6.63,0.94,6.08,0.94,5.45,0.91,5.27,0.89,4.6,0.89,5.23,0.85,8.18,1.09,8.54,1.1,8.73,1.13,8.17,0.87,8.82,0.83,10.2,1.0,
  10.65,0.53,
  5.2,0.17,5.67,0.13,6.15,0.19,6.74,0.2,5.99,0.1,6.45,0.08,6.58,0.05,6.86,0.08,6.13,0.04,6.24,0.01,5.61,0.0,5.92,-0.03,5.66,-0.08,5.53,-0.13,5.94,-0.13,6.36,-0.11,6.07,-0.17,7.49,0.16,7.58,0.13,7.82,0.13,7.88,0.11,8.23,0.11,8.18,0.09,8.68,0.13,9.08,0.08,9.32,0.17,9.57,0.16,9.53,0.06,10.52,0.15,10.53,0.13,7.52,0.0,7.42,-0.02,7.79,-0.03,8.19,-0.01,8.68,0.0,9.36,-0.01,9.19,-0.04,8.1,-0.09,7.52,-0.11,8.52,-0.16,8.86,-0.15,7.55,-0.16,10.38,-0.13,10.7,-0.1,10.5,-0.09];
var ugandaWealth = [4.3,1.03,4.86,1.0,5.23,0.99,5.49,1.0,5.88,1.09,5.88,0.88,6.74,0.86,5.01,0.8,7.55,1.11,7.6,1.06,9.36,1.07,8.15,0.92,8.73,0.93,10.5,1.0,
  10.65,0.34,
  5.94,0.19,6.3,0.18,6.18,0.16,6.72,0.13,6.71,0.16,6.21,0.08,6.46,0.08,7.04,0.06,6.27,0.05,4.6,0.03,5.37,0.04,5.2,-0.03,5.65,-0.05,6.1,-0.03,6.45,-0.03,6.88,0.0,6.85,-0.04,4.6,-0.11,5.99,-0.13,5.28,-0.19,6.57,-0.19,7.38,0.17,7.76,0.18,8.54,0.18,8.18,0.14,8.79,0.09,8.24,0.07,7.93,0.03,8.54,0.07,9.31,0.04,8.68,0.04,7.52,-0.01,8.11,-0.02,8.67,-0.08,7.82,-0.14,7.82,-0.17,9.07,-0.19,9.19,-0.18,9.54,-0.13,10.03,-0.16,10.2,-0.12,10.36,-0.06,10.7,-0.06,10.53,-0.01,10.52,0.09,10.6,0.11];

var usaGender = [4.1,1.11,4.04,1.09,4.06,1.05,4.04,1.01,4.08,0.98,4.26,0.95,4.76,1.17,4.46,1.1,4.55,1.03,4.88,1.08,5.11,1.08,5.04,0.81,5.17,0.81,4.96,0.83,4.4,0.83,5.62,1.19,5.74,1.16,6.1,1.18,6.21,1.17,5.88,1.05,6.15,1.05,5.83,1.0,5.5,0.94,5.62,0.92,5.47,0.87,5.8,0.88,6.06,0.9,6.24,0.82,6.36,0.88,6.63,1.14,6.9,1.12,7.02,1.13,6.57,1.0,6.69,0.99,6.84,0.99,6.51,0.95,6.63,0.91,6.57,0.87,6.51,0.84,6.96,0.8,7.2,0.8,7.3,1.06,7.27,1.02,7.27,0.97,7.2,0.91,7.14,0.86,7.46,0.98,7.64,1.16,7.88,1.15,8.0,1.11,7.76,1.06,7.61,0.83,7.87,0.85,8.15,0.8,8.0,0.93,8.4,1.0,8.67,1.11,8.45,0.9,8.48,0.85,8.71,0.81,8.86,0.93,9.17,1.1,9.3,1.06,9.49,1.16,9.82,1.16,9.55,0.84,9.7,0.81,9.7,0.93,10.14,1.19,10.26,1.17,10.41,1.14,10.44,1.04,10.53,0.96,10.59,0.83,10.86,1.1,10.95,0.82,12.27,0.96,
  6.1,0.68,4.46,0.59,7.79,0.64,7.94,0.57,8.26,0.57,7.64,0.56,5.83,0.51,5.95,0.45,6.69,0.43,6.81,0.43,6.96,0.41,6.42,0.4,6.47,0.38,5.53,0.37,7.55,0.38,8.2,0.32,8.82,0.64,9.39,0.7,9.85,0.58,9.79,0.56,10.1,0.54,10.11,0.5,10.44,0.61,9.57,0.47,10.83,0.43,10.65,0.38,10.47,0.36,10.17,0.3,9.65,0.31,10.75,0.69,8.63,0.39,7.28,0.33,7.14,0.5,
  4.04,0.12,4.58,0.17,5.41,0.2,5.35,0.1,4.55,0.07,4.16,-0.02,4.28,0.0,4.49,-0.03,4.82,-0.02,5.8,0.16,5.9,0.16,6.15,0.08,6.3,0.06,5.95,0.01,6.33,-0.02,6.51,-0.07,6.63,-0.05,5.92,-0.05,5.92,-0.08,5.53,-0.14,5.05,-0.15,5.89,-0.18,6.63,-0.16,6.96,-0.11,7.17,-0.19,6.93,0.17,7.17,0.13,7.38,0.18,7.11,0.07,7.46,0.08,7.88,0.12,7.97,0.13,8.03,0.2,8.54,0.18,8.42,0.05,8.24,0.02,8.12,0.02,8.68,0.06,8.83,0.01,8.71,-0.04,8.48,-0.04,7.55,-0.09,8.15,-0.13,7.76,-0.15,8.8,-0.18,9.07,-0.13,9.16,-0.09,9.22,0.12,9.4,0.18,9.49,0.09,9.79,0.07,10.05,0.04,9.79,-0.01,9.79,-0.06,10.26,0.0,10.62,0.03,10.59,-0.01,11.07,-0.09,9.96,-0.15,10.26,-0.13,10.62,-0.1,10.38,-0.18,10.62,0.14,10.26,0.14,9.49,-0.17,9.22,-0.16];
var usaReligion = [4.22,1.16,4.01,1.08,4.25,1.08,4.37,1.03,4.43,1.06,4.79,0.99,4.52,0.87,4.79,0.85,5.02,1.1,5.17,1.06,5.35,1.06,5.05,0.9,5.59,1.1,5.71,1.01,5.92,1.0,5.89,0.92,5.38,0.9,5.95,0.83,6.1,0.97,6.21,1.1,6.36,1.11,6.51,1.11,6.63,1.05,6.39,0.85,6.6,0.8,6.84,0.91,6.96,1.04,6.9,0.85,6.99,1.12,7.29,1.19,7.55,1.12,7.64,1.03,7.82,0.86,8.0,0.85,7.55,0.86,7.26,0.95,8.18,1.19,8.3,1.14,8.54,1.08,8.6,1.02,8.36,0.81,8.57,0.81,8.69,0.8,8.77,0.87,8.88,1.15,9.1,1.04,8.98,1.01,9.25,1.18,9.49,1.17,9.75,1.05,9.55,0.93,9.85,0.92,10.06,1.12,10.26,1.11,10.29,0.9,10.26,0.88,10.08,0.85,10.53,1.08,10.59,0.92,10.59,0.81,10.74,0.82,12.27,0.86,
  4.1,0.66,4.02,0.59,5.84,0.66,6.4,0.67,7.26,0.69,7.2,0.66,7.96,0.66,8.51,0.69,7.79,0.59,8.0,0.52,4.47,0.46,5.41,0.44,5.95,0.47,6.6,0.45,7.55,0.44,6.93,0.48,7.24,0.49,8.2,0.4,8.48,0.44,5.35,0.31,6.46,0.31,6.81,0.32,7.68,0.31,9.28,0.6,9.58,0.6,9.34,0.58,9.75,0.52,10.17,0.68,10.38,0.57,10.65,0.58,9.37,0.45,9.95,0.44,10.47,0.4,10.85,0.39,10.1,0.34,10.74,0.3,11.1,0.46,10.38,0.47,
  4.3,0.16,4.53,0.13,4.1,0.09,4.76,0.07,4.76,0.04,4.88,0.02,5.68,-0.01,5.65,-0.05,5.05,-0.06,4.43,-0.11,4.04,-0.16,4.53,-0.19,5.23,-0.18,5.17,0.17,5.86,0.12,5.95,0.1,6.19,0.12,6.42,0.14,6.3,0.18,6.6,0.05,6.81,0.05,6.81,0.02,6.72,-0.03,6.24,-0.08,6.39,-0.12,6.21,-0.16,7.08,0.2,7.38,0.1,7.49,0.09,7.52,0.06,7.4,0.01,7.79,0.02,8.26,0.13,8.12,0.19,8.8,0.17,8.89,0.05,8.71,-0.09,7.17,-0.09,7.38,-0.13,7.88,-0.11,8.03,-0.14,7.82,-0.16,6.99,-0.14,9.16,0.08,9.19,0.17,9.52,0.04,9.76,0.19,9.58,0.16,9.82,0.13,9.64,0.07,9.79,0.02,10.38,0.09,10.53,-0.01,10.59,-0.04,10.5,-0.06,10.8,0.14,10.89,0.05,9.82,-0.1,10.32,-0.11,10.53,-0.17,9.46,-0.17,8.89,-0.04,9.3,-0.05];
var usaWealth = [4.31,1.14,4.79,1.15,4.76,1.19,4.31,1.12,4.04,0.92,4.07,0.85,4.1,0.82,4.43,0.97,4.81,0.91,4.73,0.83,4.94,1.0,5.17,1.15,5.38,1.13,5.92,1.12,6.04,1.08,5.56,0.95,5.35,0.86,5.71,0.82,6.24,1.19,6.21,0.96,6.6,1.08,6.72,1.13,6.96,1.1,7.27,1.11,7.26,1.04,6.93,1.17,7.05,1.15,7.14,0.97,7.29,0.91,7.7,0.91,7.97,0.95,7.94,1.03,7.97,1.0,8.24,1.03,8.42,1.06,8.54,1.17,8.74,1.18,8.68,1.03,8.6,0.99,8.51,0.88,8.18,0.87,8.86,0.9,9.3,0.95,9.48,0.97,9.8,0.99,9.48,1.08,9.48,1.05,10.06,1.2,10.33,1.17,10.62,1.19,10.83,1.17,10.41,1.05,10.38,0.92,10.35,0.89,10.2,0.83,9.64,0.9,12.27,1.07,
  4.46,0.66,4.76,0.63,5.41,0.6,6.6,0.68,7.64,0.69,8.26,0.66,8.51,0.69,7.64,0.56,7.49,0.56,5.56,0.55,6.21,0.53,6.39,0.44,6.36,0.4,8.22,0.4,8.6,0.39,5.95,0.34,4.04,0.31,6.81,0.32,8.48,0.33,9.7,0.64,9.68,0.54,10.32,0.57,10.44,0.55,9.31,0.43,9.58,0.42,9.07,0.36,10.8,0.36,9.86,0.69,
  4.04,0.06,4.31,0.12,4.58,0.02,5.17,0.01,5.38,0.0,4.76,-0.06,4.55,-0.08,4.85,-0.1,4.52,-0.12,4.55,-0.16,4.1,-0.19,5.05,-0.11,5.2,-0.01,5.86,0.09,5.74,0.14,6.1,0.15,6.36,0.19,6.24,0.1,6.45,0.06,6.1,0.02,5.86,-0.06,5.98,-0.09,6.1,-0.08,6.69,-0.08,6.6,-0.12,5.83,-0.13,6.39,-0.19,6.9,-0.18,6.75,0.2,6.84,0.1,7.17,0.16,7.35,0.02,7.43,0.0,7.55,0.06,7.76,-0.03,7.64,-0.03,7.52,-0.07,7.3,-0.11,7.79,-0.14,8.12,-0.17,7.52,-0.18,7.88,0.07,8.06,-0.06,8.3,-0.08,8.54,0.0,8.71,-0.11,8.42,0.0,8.89,0.2,9.07,0.19,9.31,0.16,8.92,0.03,9.04,-0.01,9.28,-0.04,9.43,-0.1,9.55,-0.13,9.79,0.11,9.92,0.16,10.04,0.19,10.36,0.2,10.74,0.15,10.95,0.08,9.79,0.04,9.92,0.01,10.1,-0.03,10.26,-0.05,10.83,-0.13,11.04,-0.04,10.26,-0.16,10.14,-0.19,9.58,-0.09,8.62,-0.11];

var genderPoints = [chinaGender, greeceGender, indiaGender, indonesiaGender, niGender, roiGender, rsaGender, singaporeGender, ugandaGender, usaGender];
var religionPoints = [chinaReligion, greeceReligion, indiaReligion, indonesiaReligion, niReligion, roiReligion, rsaReligion, singaporeReligion, ugandaReligion, usaReligion];
var wealthPoints = [chinaWealth, greeceWealth, indiaWealth, indonesiaWealth, niWealth, roiWealth, rsaWealth, singaporeWealth, ugandaWealth, usaWealth];

// ---- layout ----
var colors = {Gender: "#231f20", Religion: "#8b4f0b", Wealth: "#477a69"};
var W = 541, H = 900;
var colX = [222, 807.5, 1393, 1978.5, 2564];
var rowY = [240, 1299];

var svg = d3.select("body").append("svg")
    .attr("width", 3600)
    .attr("height", 2400);

svg.append("rect").attr("width", 3600).attr("height", 2400).attr("fill", "#f2f2f2");

var x = d3.scaleLinear().domain([3.6, 12.96]).range([0, W]);
var y = d3.scaleLinear().domain([-0.267, 1.267]).range([H, 0]);

function toPairs(flat) {
    var out = [];
    for (var i = 0; i < flat.length; i += 2) out.push([flat[i], flat[i + 1]]);
    return out;
}

svg.append("defs").append("clipPath").attr("id", "panelClip")
    .append("rect").attr("width", W).attr("height", H);

countries.forEach(function (name, i) {
    var col = i % 5, row = Math.floor(i / 5);
    var g = svg.append("g").attr("transform", "translate(" + colX[col] + "," + rowY[row] + ")");

    // strip
    g.append("rect")
        .attr("x", 0).attr("y", -76).attr("width", W).attr("height", 73)
        .attr("fill", "#f8f8f8").attr("stroke", "#000").attr("stroke-width", 4.5);
    g.append("text")
        .attr("x", W / 2).attr("y", -24)
        .attr("text-anchor", "middle")
        .attr("font-size", 41).attr("font-weight", "bold")
        .text(name);

    // panel background + grid
    g.append("rect").attr("width", W).attr("height", H).attr("fill", "#f2f2f2");
    g.selectAll(".vgrid").data(xTicks).enter().append("line")
        .attr("x1", function (d) { return x(d); }).attr("x2", function (d) { return x(d); })
        .attr("y1", 0).attr("y2", H)
        .attr("stroke", "#e3e3e3").attr("stroke-width", 3.5);
    g.selectAll(".hgrid").data(yTicks).enter().append("line")
        .attr("x1", 0).attr("x2", W)
        .attr("y1", function (d) { return y(d); }).attr("y2", function (d) { return y(d); })
        .attr("stroke", "#e3e3e3").attr("stroke-width", 4);

    // points, interleaved so no category sits fully on top
    var sets = [toPairs(genderPoints[i]), toPairs(religionPoints[i]), toPairs(wealthPoints[i])];
    var pts = [];
    var n = d3.max(sets, function (s) { return s.length; });
    for (var k = 0; k < n; k++) {
        sets.forEach(function (s, c) {
            if (k < s.length) pts.push({age: s[k][0], score: s[k][1], cat: categories[c]});
        });
    }
    var pg = g.append("g").attr("clip-path", "url(#panelClip)");
    pg.selectAll("circle").data(pts).enter().append("circle")
        .attr("cx", function (d) { return x(d.age); })
        .attr("cy", function (d) { return y(d.score); })
        .attr("r", 10)
        .attr("fill", function (d) { return colors[d.cat]; })
        .attr("fill-opacity", 0.31);

    // fitted lines
    var fits = [genderFit[i], religionFit[i], wealthFit[i]];
    fits.forEach(function (f, c) {
        pg.append("line")
            .attr("x1", x(f[0])).attr("y1", y(f[1]))
            .attr("x2", x(f[2])).attr("y2", y(f[3]))
            .attr("stroke", colors[categories[c]])
            .attr("stroke-width", 7.5);
    });

    // border
    g.append("rect").attr("width", W).attr("height", H)
        .attr("fill", "none").attr("stroke", "#000").attr("stroke-width", 4.5);

    // axes
    var xAxis = g.append("g").attr("transform", "translate(0," + (H + 2) + ")")
        .call(d3.axisBottom(x).tickValues(xTicks).tickSize(12).tickPadding(14).tickSizeOuter(0));
    xAxis.select(".domain").remove();
    xAxis.selectAll("line").attr("stroke", "#333").attr("stroke-width", 3.5);
    xAxis.selectAll("text").attr("font-size", 37).attr("font-weight", "bold").attr("fill", "#000")
        .style("font-family", "'Liberation Sans', Arial, sans-serif");

    var yAxis = g.append("g").attr("transform", "translate(-2,0)")
        .call(d3.axisLeft(y).tickValues(yTicks).tickSize(19).tickPadding(10).tickSizeOuter(0)
            .tickFormat(col === 0 ? d3.format(".1f") : function () { return ""; }));
    yAxis.select(".domain").remove();
    yAxis.selectAll("line").attr("stroke", "#000").attr("stroke-width", 5.5);
    yAxis.selectAll("text").attr("font-size", 37).attr("font-weight", "bold").attr("fill", "#000")
        .style("font-family", "'Liberation Sans', Arial, sans-serif");
});

// titles
svg.append("text")
    .attr("x", 1663).attr("y", 107)
    .attr("text-anchor", "middle")
    .attr("font-size", 75).attr("font-weight", "bold")
    .attr("fill", "#7d5c3d")
    .text("SOULS");

svg.append("text")
    .attr("x", 1663).attr("y", 2344)
    .attr("text-anchor", "middle")
    .attr("font-size", 58).attr("font-weight", "bold")
    .text("Children's Age in Years");

svg.append("text")
    .attr("transform", "translate(97,1220) rotate(-90)")
    .attr("text-anchor", "middle")
    .attr("font-size", 58).attr("font-weight", "bold")
    .text("Essentialism Scores");

// legend
var lg = svg.append("g").attr("transform", "translate(3153,1054)");
lg.append("rect").attr("width", 424).attr("height", 331)
    .attr("fill", "#f2f2f2").attr("stroke", "#000").attr("stroke-width", 4.5);
lg.append("text").attr("x", 25).attr("y", 64)
    .attr("font-size", 49).attr("font-weight", "bold")
    .text("Social Category");
categories.forEach(function (c, k) {
    var cy = 129 + k * 71.5;
    lg.append("circle").attr("cx", 59).attr("cy", cy).attr("r", 11)
        .attr("fill", colors[c]).attr("fill-opacity", 0.3);
    lg.append("line").attr("x1", 31).attr("x2", 88).attr("y1", cy).attr("y2", cy)
        .attr("stroke", colors[c]).attr("stroke-width", 8);
    lg.append("text").attr("x", 119).attr("y", cy + 14)
        .attr("font-size", 40)
        .text(c);
});
</script>
</body>
</html>
